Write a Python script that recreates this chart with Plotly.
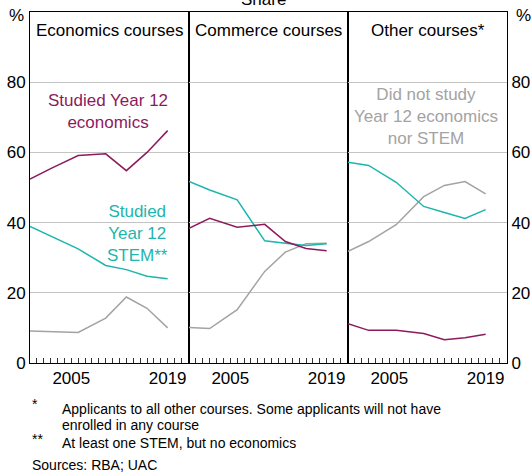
import plotly.graph_objects as go
from plotly.subplots import make_subplots

# Survey years (x positions of the data points)
years = [1999, 2002, 2006, 2010, 2013, 2016, 2019]

panel_titles = ["Economics courses", "Commerce courses", "Other courses*"]

# Shares of applicants (%), by course applied for
econ_econ = [52.4, 55.4, 59.1, 59.6, 54.8, 60.0, 66.2]
econ_stem = [38.9, 36.2, 32.5, 27.8, 26.6, 24.7, 24.0]
econ_neither = [9.1, 9.0, 8.7, 12.8, 18.8, 15.6, 10.0]

comm_econ = [38.4, 41.2, 38.7, 39.5, 34.6, 32.6, 32.0]
comm_stem = [51.7, 49.3, 46.5, 34.8, 34.1, 33.5, 34.0]
comm_neither = [10.1, 9.8, 15.2, 26.1, 31.6, 34.0, 34.1]

other_econ = [11.2, 9.3, 9.3, 8.4, 6.6, 7.2, 8.2]
other_stem = [57.2, 56.3, 51.5, 44.6, 42.9, 41.2, 43.7]
other_neither = [31.8, 34.6, 39.4, 47.4, 50.6, 51.7, 48.2]

# Axis ticks
tick_years = list(range(2000, 2023))
tick_text = ["2005" if y == 2005 else "2019" if y == 2019 else "" for y in tick_years]
y_ticks = [0, 20, 40, 60, 80]

PURPLE = "#8E1A5E"
TEAL = "#1DB5AD"
GREY = "#A3A3A3"
FONT = "Arial, Liberation Sans, sans-serif"

fig = make_subplots(rows=1, cols=3, shared_yaxes=True, horizontal_spacing=0)

panels = [
    (econ_econ, econ_stem, econ_neither),
    (comm_econ, comm_stem, comm_neither),
    (other_econ, other_stem, other_neither),
]
for i, (e, s, n) in enumerate(panels, start=1):
    for vals, col in [(n, GREY), (s, TEAL), (e, PURPLE)]:
        fig.add_trace(go.Scatter(x=years, y=vals, mode="lines",
                                 line=dict(color=col, width=1.5),
                                 showlegend=False, hoverinfo="skip"),
                      row=1, col=i)

for i in range(1, 4):
    fig.update_xaxes(range=[1999, 2022.1], tickvals=tick_years, ticktext=tick_text,
                     ticks="inside", ticklen=5, tickcolor="#333", tickwidth=1,
                     showline=True, linecolor="black", linewidth=1, mirror=True,
                     showgrid=False, zeroline=False, tickangle=0, automargin=False,
                     tickfont=dict(size=17, color="black"), row=1, col=i)
    fig.update_yaxes(range=[0, 100], tickvals=y_ticks, showgrid=True,
                     gridcolor="#C4C4C4", gridwidth=1, automargin=False,
                     showline=True, linecolor="black", linewidth=1, mirror=True,
                     zeroline=False, ticks="",
                     tickfont=dict(size=17, color="black"), row=1, col=i)

fig.update_yaxes(showticklabels=True, side="right", row=1, col=3)

annotations = []
for i, t in enumerate(panel_titles):
    annotations.append(dict(text=t, xref=f"x{'' if i == 0 else i + 1} domain", x=0.5,
                            yref="paper", y=0.948, xanchor="center", yanchor="middle",
                            showarrow=False, font=dict(size=17, color="black")))

annotations += [
    dict(text="Studied Year 12<br>economics", xref="x", yref="y", x=2010.4, y=71.6,
         showarrow=False, font=dict(size=17, color=PURPLE)),
    dict(text="Studied<br>Year 12<br>STEM**", xref="x", yref="y", x=2014.6, y=36.9,
         showarrow=False, font=dict(size=17, color=TEAL)),
    dict(text="Did not study<br>Year 12 economics<br>nor STEM", xref="x3", yref="y3",
         x=2010.4, y=70.1, showarrow=False, font=dict(size=17, color=GREY)),
    dict(text="%", xref="paper", yref="paper", x=-0.028, y=0.989, showarrow=False,
         xanchor="center", yanchor="middle", font=dict(size=17, color="black")),
    dict(text="%", xref="paper", yref="paper", x=1.034, y=0.989, showarrow=False,
         xanchor="center", yanchor="middle", font=dict(size=17, color="black")),
    dict(text="Share", xref="paper", yref="paper", x=0.49, y=1.036, showarrow=False,
         xanchor="center", yanchor="middle", font=dict(size=17, color="black")),
]

# Footnotes (pixel positions converted to paper coords)
def px_y(p):
    return (363 - p) / 351

def px_x(p):
    return (p - 30) / 477

notes = [
    ("*", 30, 404),
    ("Applicants to all other courses. Some applicants will not have", 60, 409),
    ("enrolled in any course", 60, 425),
    ("**", 30, 439),
    ("At least one STEM, but no economics", 60, 443),
    ("Sources: RBA; UAC", 30, 465),
]
for txt, x, y in notes:
    annotations.append(dict(text=txt, xref="paper", yref="paper", x=px_x(x), y=px_y(y),
                            xanchor="left", yanchor="middle", showarrow=False,
                            font=dict(size=14, color="black")))

fig.update_layout(
    width=531, height=473,
    margin=dict(l=30, r=24, t=12, b=110, autoexpand=False),
    paper_bgcolor="white", plot_bgcolor="white",
    font=dict(family=FONT, size=17, color="black"),
    annotations=annotations,
)

fig.write_html("out.html", config={"displayModeBar": False},
               post_script="document.body.style.margin='0';")
